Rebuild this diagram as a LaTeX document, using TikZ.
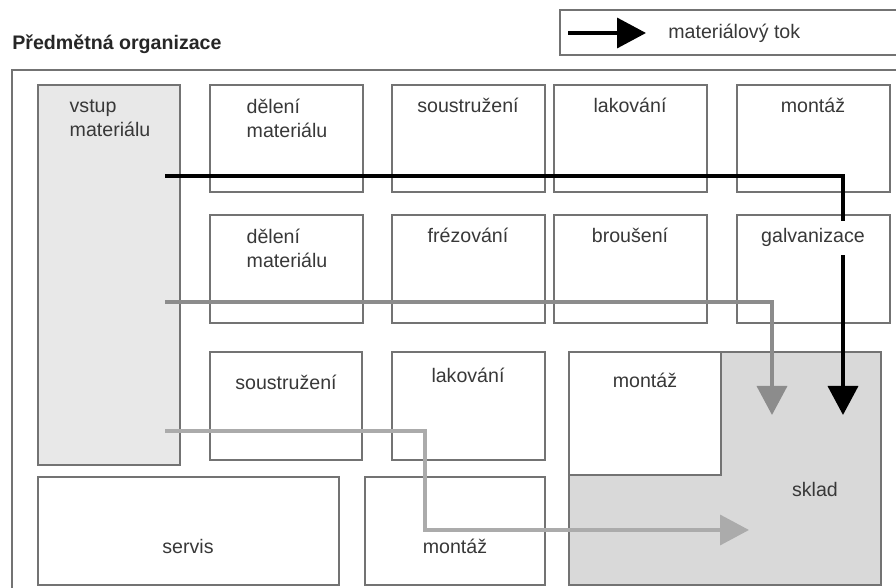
\documentclass[tikz,border=0pt]{standalone}
\usepackage{fontspec}
\setmainfont{Liberation Sans}
\usetikzlibrary{arrows.meta,positioning}

\definecolor{edge}{gray}{0.45}
\definecolor{txt}{gray}{0.22}
\definecolor{inputgray}{gray}{0.91}
\definecolor{storegray}{gray}{0.85}
\definecolor{flowmid}{gray}{0.55}
\definecolor{flowlight}{gray}{0.67}

\tikzset{
  room/.style={draw=edge, line width=0.75pt, anchor=north west, inner sep=0pt, outer sep=0pt},
  lbl/.style={text=txt, font=\fontsize{9.8}{12}\selectfont, inner sep=0pt, anchor=base},
  flow/.style={line width=1.8pt, -{Triangle[length=14.5pt,width=15pt]}}
}

\begin{document}
\begin{tikzpicture}[x=0.5pt,y=-0.5pt]
  \useasboundingbox (0,0) rectangle (896,588);
  \clip (0,0) rectangle (896,588);

  % title and legend
  \node[text=black!85, font=\bfseries\fontsize{9.8}{12}\selectfont, anchor=base west, inner sep=0pt] (title) at (12,50) {Předmětná organizace};
  \draw[edge, line width=0.75pt] (560,10) rectangle (920,55);
  \coordinate (keyFrom) at (568,33);
  \coordinate (keyTo) at (646,33);
  \draw[flow] (keyFrom) -- (keyTo);
  \node[lbl, anchor=base west] (keyText) at (668,39) {materiálový tok};

  % hall
  \draw[edge, line width=0.75pt] (12,70) rectangle (920,620);

  % rooms
  \node[room, fill=inputgray, minimum width=71pt, minimum height=190pt] (vstup) at (38,85) {};
  \foreach \x/\n in {210/a,392/b,554/c,737/d} {
    \node[room, minimum width=76.5pt, minimum height=53.5pt] (top\n) at (\x,85) {};
    \node[room, minimum width=76.5pt, minimum height=54pt] (mid\n) at (\x,215) {};
  }
  \node[room, minimum width=76pt, minimum height=54pt] (lowA) at (210,352) {};
  \node[room, minimum width=76.5pt, minimum height=54pt] (lowB) at (392,352) {};
  \node[room, fill=storegray, minimum width=156pt, minimum height=116.5pt] (sklad) at (569,352) {};
  \node[room, fill=white, minimum width=76pt, minimum height=61.5pt] (lowMont) at (569,352) {};
  \node[room, minimum width=150.5pt, minimum height=54pt] (servis) at (38,477) {};
  \node[room, minimum width=90pt, minimum height=54pt] (botMont) at (365,477) {};

  % labels
  \node[lbl, align=left, anchor=north] (tVstup) at (110,99) {vstup\\materiálu};
  \node[lbl, align=left, anchor=north] (tDel1) at (287,99) {dělení\\materiálu};
  \node[lbl, align=left, anchor=north] (tDel2) at (287,229) {dělení\\materiálu};
  \foreach \x/\t/\n in {468/soustružení/a,630/lakování/b,813/montáž/c}
    \node[lbl] (tTop\n) at (\x,113) {\t};
  \foreach \x/\t/\n in {468/frézování/a,630/broušení/b}
    \node[lbl] (tMid\n) at (\x,243) {\t};
  \node[lbl] (tLowA) at (286,390) {soustružení};
  \node[lbl] (tLowB) at (468,383) {lakování};
  \node[lbl] (tLowMont) at (645,388) {montáž};
  \node[lbl] (tSklad) at (815,497) {sklad};
  \node[lbl] (tServis) at (188,554) {servis};
  \node[lbl] (tBotMont) at (455,554) {montáž};

  % material flows
  \coordinate (blackFrom) at (165,176);
  \coordinate (blackTo) at (843,415);
  \draw[flow, black] (blackFrom) -| (blackTo);

  \coordinate (midFrom) at (165,302);
  \coordinate (midTo) at (772,415);
  \draw[flow, flowmid] (midFrom) -| (midTo);

  \coordinate (lowFrom) at (165,431);
  \coordinate (lowBend) at (425,530);
  \coordinate (lowTo) at (749,530);
  \draw[flow, flowlight] (lowFrom) -| (lowBend) -- (lowTo);

  \node[lbl, fill=white, inner ysep=4pt] (tGalv) at (813,243) {galvanizace};
\end{tikzpicture}
\end{document}
